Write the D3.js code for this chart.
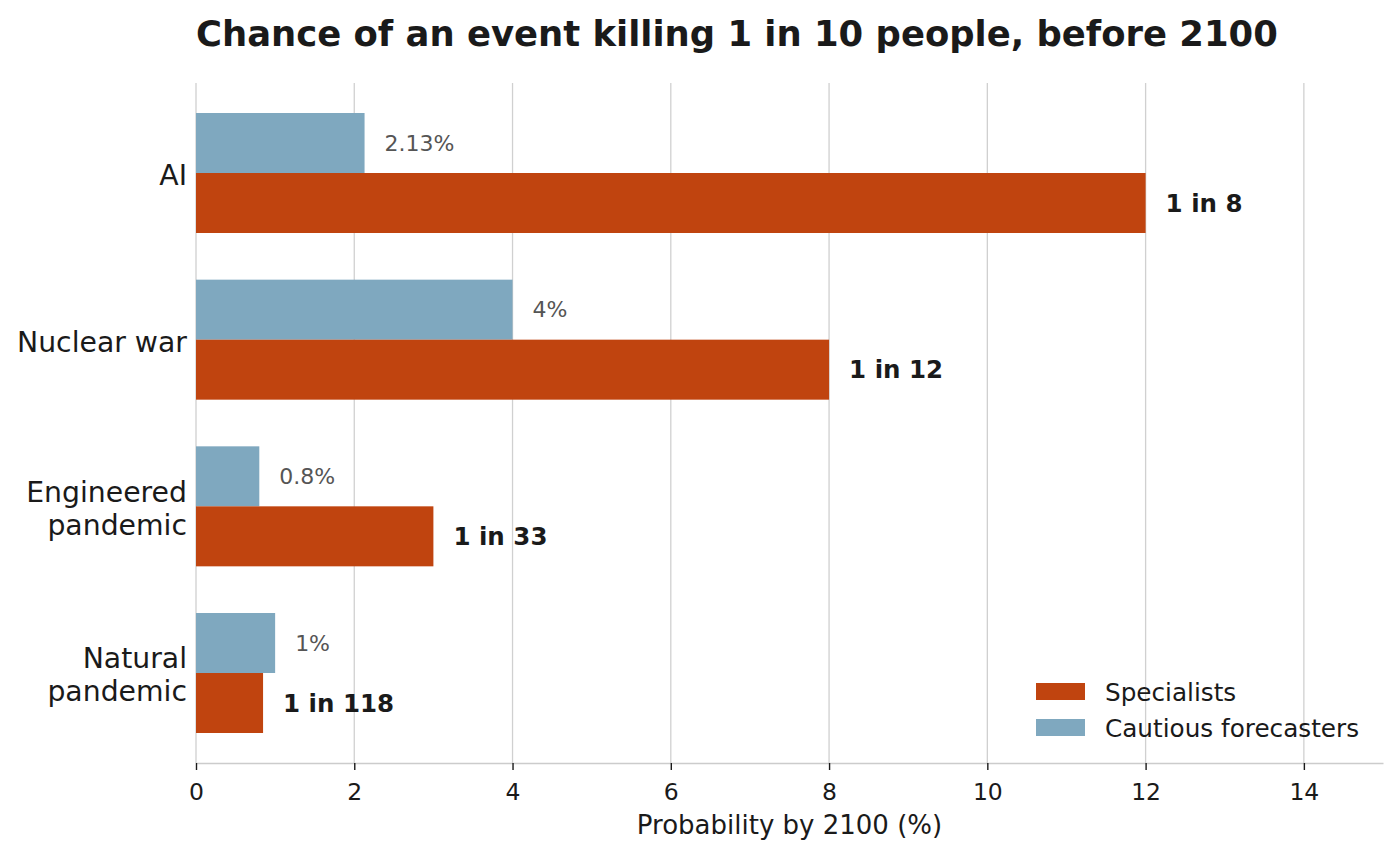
<!DOCTYPE html>
<html>
<head>
<meta charset="utf-8">
<script src="https://cdn.jsdelivr.net/npm/d3@7"></script>
<style>
    body { margin: 0; background: #ffffff; }
    text { font-family: "DejaVu Sans", sans-serif; }
</style>
</head>
<body>
<div id="chart"></div>
<script>
var categories = [["AI"], ["Nuclear war"], ["Engineered", "pandemic"], ["Natural", "pandemic"]];
var category_keys = ["AI", "Nuclear war", "Engineered pandemic", "Natural pandemic"];
var specialists_values = [12, 8, 3, 100 / 118];
var specialists_labels = ["1 in 8", "1 in 12", "1 in 33", "1 in 118"];
var cautious_values = [2.13, 4, 0.8, 1];
var cautious_labels = ["2.13%", "4%", "0.8%", "1%"];
var x_ticks = [0, 2, 4, 6, 8, 10, 12, 14];

var width = 1400;
var height = 855;
var margin = {top: 83, right: 17, bottom: 92, left: 196};

var orange = "#c0440f";
var blue = "#7fa8bf";

var svg = d3.select("#chart").append("svg")
            .attr("width", width)
            .attr("height", height);

var x_scale = d3.scaleLinear()
                .domain([0, 15])
                .range([margin.left, width - margin.right]);

var y_scale = d3.scaleBand()
                .domain(category_keys)
                .range([margin.top, height - margin.bottom])
                .paddingInner(0.28)
                .paddingOuter(0.18);

var half_band = y_scale.bandwidth() / 2;

// vertical grid lines
svg.append("g")
   .selectAll("line")
   .data(x_ticks)
   .enter().append("line")
   .attr("x1", function (d) { return x_scale(d); })
   .attr("x2", function (d) { return x_scale(d); })
   .attr("y1", margin.top)
   .attr("y2", height - margin.bottom)
   .attr("stroke", "#d0d0d0")
   .attr("stroke-width", 1.3);

// bars
var groups = svg.append("g")
                .selectAll("g")
                .data(category_keys)
                .enter().append("g");

groups.append("rect")
      .attr("x", x_scale(0))
      .attr("y", function (d) { return y_scale(d); })
      .attr("width", function (d, i) { return x_scale(cautious_values[i]) - x_scale(0); })
      .attr("height", half_band)
      .attr("fill", blue);

groups.append("rect")
      .attr("x", x_scale(0))
      .attr("y", function (d) { return y_scale(d) + half_band; })
      .attr("width", function (d, i) { return x_scale(specialists_values[i]) - x_scale(0); })
      .attr("height", half_band)
      .attr("fill", orange);

groups.append("text")
      .attr("x", function (d, i) { return x_scale(cautious_values[i]) + 20; })
      .attr("y", function (d) { return y_scale(d) + half_band / 2; })
      .attr("dy", "0.35em")
      .attr("font-size", 22)
      .attr("fill", "#555555")
      .text(function (d, i) { return cautious_labels[i]; });

groups.append("text")
      .attr("x", function (d, i) { return x_scale(specialists_values[i]) + 20; })
      .attr("y", function (d) { return y_scale(d) + half_band * 1.5; })
      .attr("dy", "0.35em")
      .attr("font-size", 24.5)
      .attr("font-weight", "bold")
      .attr("fill", "#1a1a1a")
      .text(function (d, i) { return specialists_labels[i]; });

// y category labels
var y_labels = svg.append("g")
                  .selectAll("text")
                  .data(category_keys)
                  .enter().append("text")
                  .attr("text-anchor", "end")
                  .attr("font-size", 28.3)
                  .attr("fill", "#1a1a1a")
                  .attr("transform", function (d) { return "translate(187," + (y_scale(d) + half_band + 2) + ")"; });

y_labels.each(function (d, i) {
    var lines = categories[i];
    var line_height = 33;
    var start = -(lines.length - 1) * line_height / 2;
    for (var index in lines)
    {
        d3.select(this).append("tspan")
          .attr("x", 0)
          .attr("y", start + index * line_height)
          .attr("dy", "0.35em")
          .text(lines[index]);
    }
});

// x axis
var x_axis = svg.append("g")
                .attr("transform", "translate(0," + (height - margin.bottom) + ")")
                .call(d3.axisBottom(x_scale).tickValues(x_ticks).tickSize(7).tickSizeOuter(0).tickPadding(13));

x_axis.select(".domain").attr("stroke", "#cccccc").attr("stroke-width", 1.6);
x_axis.selectAll(".tick line").attr("stroke", "#1a1a1a").attr("stroke-width", 1.4);
x_axis.selectAll(".tick text")
      .attr("font-family", "DejaVu Sans, sans-serif")
      .attr("font-size", 23.5)
      .attr("fill", "#1a1a1a");

svg.append("text")
   .attr("x", (x_scale(0) + x_scale(15)) / 2)
   .attr("y", 834)
   .attr("text-anchor", "middle")
   .attr("font-size", 26)
   .attr("fill", "#1a1a1a")
   .text("Probability by 2100 (%)");

// title
svg.append("text")
   .attr("x", margin.left)
   .attr("y", 46)
   .attr("font-size", 35.4)
   .attr("font-weight", "bold")
   .attr("fill", "#1a1a1a")
   .text("Chance of an event killing 1 in 10 people, before 2100");

// legend
var legend_items = [["Specialists", orange], ["Cautious forecasters", blue]];
var legend = svg.append("g")
                .selectAll("g")
                .data(legend_items)
                .enter().append("g")
                .attr("transform", function (d, i) { return "translate(1036," + (683 + i * 36) + ")"; });

legend.append("rect")
      .attr("width", 49)
      .attr("height", 17)
      .attr("fill", function (d) { return d[1]; });

legend.append("text")
      .attr("x", 69)
      .attr("y", 9)
      .attr("dy", "0.35em")
      .attr("font-size", 24.7)
      .attr("fill", "#1a1a1a")
      .text(function (d) { return d[0]; });
</script>
</body>
</html>
